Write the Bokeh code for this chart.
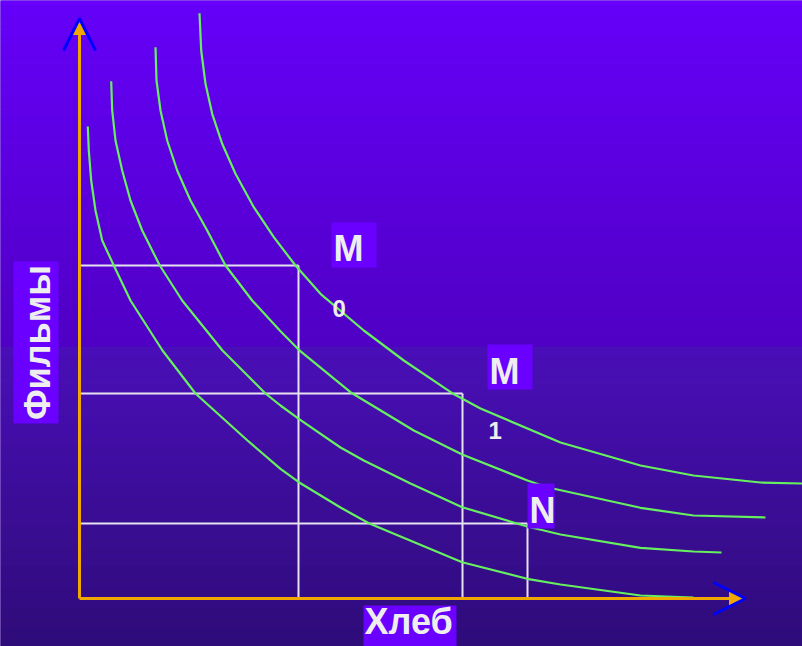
import numpy as np
from bokeh.plotting import figure
from bokeh.models import Range1d, Arrow, NormalHead, OpenHead
from bokeh.core.properties import value
from bokeh.embed import file_html
from bokeh.resources import INLINE

# ---- data (x = Хлеб, y = Фильмы) ----
curve_a_x = [0.83, 0.93, 1.17, 1.6, 2.27, 3.43, 5.1, 8.3, 11.6, 16.8, 20.1, 21.93, 26.1, 28.93,
             38.27, 44.77, 48.1, 56.1, 61.4]
curve_a_y = [47.2, 44.8, 41.8, 38.8, 35.8, 33.3, 29.8, 24.8, 20.5, 15.8, 12.97, 11.63, 9.1, 7.53,
             3.63, 1.97, 1.4, 0.3, 0.1]

curve_b_x = [3.17, 3.27, 3.6, 4.27, 5.1, 6.27, 8.03, 10.27, 14.3, 18.6, 20.1, 21.93, 26.1, 28.43,
             33.1, 38.27, 44.77, 48.1, 56.1, 61.4, 64.2]
curve_b_y = [51.73, 48.8, 45.8, 42.8, 39.8, 36.8, 33.3, 29.8, 24.8, 20.5, 19.3, 17.97, 15.1, 13.8,
             11.5, 9.13, 7.2, 6.4, 5.07, 4.7, 4.6]

curve_c_x = [7.6, 7.7, 8.1, 8.77, 9.77, 11.1, 12.77, 14.6, 17.27, 20.1, 21.93, 27.1, 33.43, 38.27,
             44.8, 46.77, 56.1, 61.4, 68.6]
curve_c_y = [55.13, 51.8, 48.8, 45.8, 42.8, 39.8, 36.8, 33.3, 29.8, 26.73, 24.87, 20.63, 16.8, 14.4,
             11.8, 11.13, 9.07, 8.3, 8.1]

curve_d_x = [12.0, 12.17, 12.6, 13.27, 14.27, 15.6, 17.43, 19.43, 21.6, 24.1, 28.43, 32.43, 37.27,
             40.1, 48.1, 56.1, 61.4, 68.1, 72.3]
curve_d_y = [58.53, 54.8, 51.47, 48.47, 45.47, 42.47, 39.13, 36.13, 33.3, 30.47, 26.8, 23.8, 20.53,
             19.0, 15.6, 13.3, 12.3, 11.6, 11.5]

# bundle points M0, M1, N
point_names = ["M0", "M1", "N"]
point_x = [21.9, 38.3, 44.8]
point_y = [33.3, 20.5, 7.5]

axis_x_max = 66.6
axis_y_max = 58.0
x_label = "Хлеб"
y_label = "Фильмы"

# ---- figure ----
X0, X1 = -7.9, 72.3
Y0, Y1 = -4.8, 59.8
p = figure(width=802, height=646, x_range=Range1d(X0, X1), y_range=Range1d(Y0, Y1),
           min_border=0, x_axis_type=None, y_axis_type=None, toolbar_location=None,
           output_backend="svg", outline_line_color=None)
p.background_fill_color = "#4a00c0"
p.border_fill_color = "#4a00c0"

# background gradient (banded)
def grad(yref):
    if yref < 344:
        t = yref / 344.0
        c0, c1 = (102, 0, 250), (80, 0, 196)
    else:
        t = (yref - 344) / (646 - 344.0)
        c0, c1 = (74, 14, 184), (46, 12, 120)
    return "#%02x%02x%02x" % tuple(int(round(a + (b - a) * t)) for a, b in zip(c0, c1))

edges = np.arange(Y0, Y1 + 0.5, 1.0)
bots = edges[:-1]
tops = edges[1:]
cols = [grad(598 - 10 * (b + t) / 2) for b, t in zip(bots, tops)]
p.quad(left=X0 - 1, right=X1 + 1, bottom=bots, top=tops + 0.02, fill_color=cols, line_color=None)

# rectangles from the axes to the bundle points
white = "#e6e2f0"
p.segment(x0=[0] * 3, y0=point_y, x1=point_x, y1=point_y, line_color=white, line_width=2)
p.segment(x0=point_x, y0=point_y, x1=point_x, y1=[0] * 3, line_color=white, line_width=2)

# indifference curves
green = "#66f060"
for cx, cy in [(curve_a_x, curve_a_y), (curve_b_x, curve_b_y), (curve_c_x, curve_c_y), (curve_d_x, curve_d_y)]:
    p.line(cx, cy, line_color=green, line_width=2.2, line_join="round")

# axes with arrows
orange = "#f0a800"
p.add_layout(Arrow(end=NormalHead(size=16, fill_color=orange, line_color=orange),
                   x_start=0, y_start=0, x_end=0, y_end=axis_y_max, line_color=orange, line_width=3))
p.add_layout(Arrow(end=NormalHead(size=16, fill_color=orange, line_color=orange),
                   x_start=0, y_start=0, x_end=axis_x_max, y_end=0, line_color=orange, line_width=3))
p.add_layout(Arrow(end=OpenHead(size=32, line_color="#0000ff", line_width=3),
                   x_start=0, y_start=axis_y_max - 5, x_end=0, y_end=axis_y_max, line_alpha=0))
p.add_layout(Arrow(end=OpenHead(size=32, line_color="#0000ff", line_width=3),
                   x_start=axis_x_max - 5, y_start=0, x_end=axis_x_max, y_end=0, line_alpha=0))

# label boxes
box = "#6a00ff"
txt = "#eeeeee"
font = value("Liberation Sans")
p.rect(x=[27.45, 43.05], y=[35.35, 23.15], width=45, height=45, width_units="screen",
       height_units="screen", fill_color=box, line_color=None)
p.rect(x=[46.15], y=[9.25], width=27, height=45, width_units="screen",
       height_units="screen", fill_color=box, line_color=None)
p.rect(x=[33.05], y=[-2.75], width=93, height=41, width_units="screen",
       height_units="screen", fill_color=box, line_color=None)
p.rect(x=[-4.35], y=[25.6], width=45, height=162, width_units="screen",
       height_units="screen", fill_color=box, line_color=None)

p.text(x=[25.4, 41.0, 45.0], y=[35.0, 22.7, 8.8], text=["M", "M", "N"], text_font=font,
       text_font_size="36px", text_font_style="bold", text_color=txt,
       text_align="left", text_baseline="alphabetic")
p.text(x=[25.3, 40.9], y=[29.0, 16.8], text=["0", "1"], text_font=font,
       text_font_size="24px", text_font_style="bold", text_color=txt,
       text_align="left", text_baseline="alphabetic")
p.text(x=[28.5], y=[-2.3], text=[x_label], text_font=font, text_font_size="36px",
       text_font_style="bold", text_color=txt, text_align="left", text_baseline="alphabetic")
p.text(x=[-4.25], y=[25.6], text=[y_label], angle=np.pi / 2, text_font=font,
       text_font_size="36px", text_font_style="bold", text_color=txt,
       text_align="center", text_baseline="middle")

open("out.html", "w").write(file_html(p, INLINE))
